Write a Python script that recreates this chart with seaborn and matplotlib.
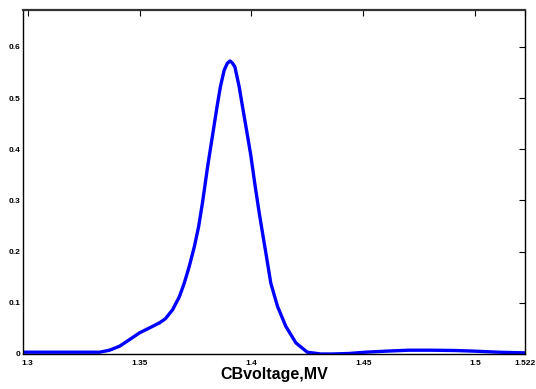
import pandas as pd
import matplotlib
matplotlib.use('Agg')
import matplotlib.pyplot as plt
import seaborn as sns

# values
voltage = [1.2979, 1.3144, 1.3322, 1.3366, 1.3411, 1.3456, 1.35, 1.3545,
           1.3589, 1.3616, 1.3648, 1.3678, 1.37, 1.3722, 1.3745, 1.3764,
           1.3782, 1.3804, 1.3831, 1.3846, 1.3861, 1.3878, 1.3892, 1.3904,
           1.3914, 1.3926, 1.3945, 1.396, 1.398, 1.3997, 1.4015, 1.4034,
           1.4053, 1.4064, 1.4086, 1.4116, 1.4153, 1.4198, 1.4249, 1.4309,
           1.4359, 1.4435, 1.4509, 1.4598, 1.4702, 1.4805, 1.491, 1.4999,
           1.5103, 1.5207, 1.522]
signal = [0.0035, 0.0035, 0.0035, 0.0074, 0.0152, 0.0283, 0.0413, 0.0511,
          0.0608, 0.069, 0.0867, 0.112, 0.1388, 0.1711, 0.2101, 0.2491,
          0.298, 0.366, 0.441, 0.483, 0.522, 0.5546, 0.568, 0.5727,
          0.569, 0.561, 0.522, 0.483, 0.432, 0.388, 0.332, 0.277,
          0.2265, 0.198, 0.1388, 0.0932, 0.0542, 0.0218, 0.0035, 0.0,
          0.0, 0.001, 0.0035, 0.0055, 0.0074, 0.0074, 0.0068, 0.0055,
          0.0035, 0.0023, 0.0023]

x_ticks = [1.3, 1.35, 1.4, 1.45, 1.5, 1.522]
x_tick_labels = ['1.3', '1.35', '1.4', '1.45', '1.5', '1.522']
y_ticks = [0, 0.1, 0.2, 0.3, 0.4, 0.5, 0.6]
y_tick_labels = ['0', '0.1', '0.2', '0.3', '0.4', '0.5', '0.6']

df = pd.DataFrame({'voltage': voltage, 'signal': signal})

sns.set_style('white')
plt.rcParams['font.family'] = ['Liberation Sans', 'DejaVu Sans']

fig = plt.figure(figsize=(5.36, 3.89), dpi=100)
ax = fig.add_axes([0.043, 0.09, 0.936, 0.884])

sns.lineplot(data=df, x='voltage', y='signal', color='#0000ff',
             linewidth=2.4, ax=ax)
ax.lines[0].set_solid_joinstyle('round')

ax.set_xlim(1.298, 1.522)
ax.set_ylim(0, 0.672)
ax.set_xticks(x_ticks)
ax.set_xticklabels(x_tick_labels, fontsize=6, fontweight='bold')
ax.set_yticks(y_ticks)
ax.set_yticklabels(y_tick_labels, fontsize=6, fontweight='bold')
ax.tick_params(direction='in', length=4, width=0.8, top=True, right=True,
               pad=2, colors='black')
ax.tick_params(axis='x', pad=4)

for side in ax.spines.values():
    side.set_color('black')
    side.set_linewidth(1.0)
ax.spines['top'].set_linewidth(1.6)
ax.spines['top'].set_color('#333333')

ax.set_xlabel('CBvoltage,MV', fontsize=11.5, fontweight='bold', labelpad=0,
              color='black')
ax.set_ylabel('')

fig.savefig('out.png', dpi=100)
